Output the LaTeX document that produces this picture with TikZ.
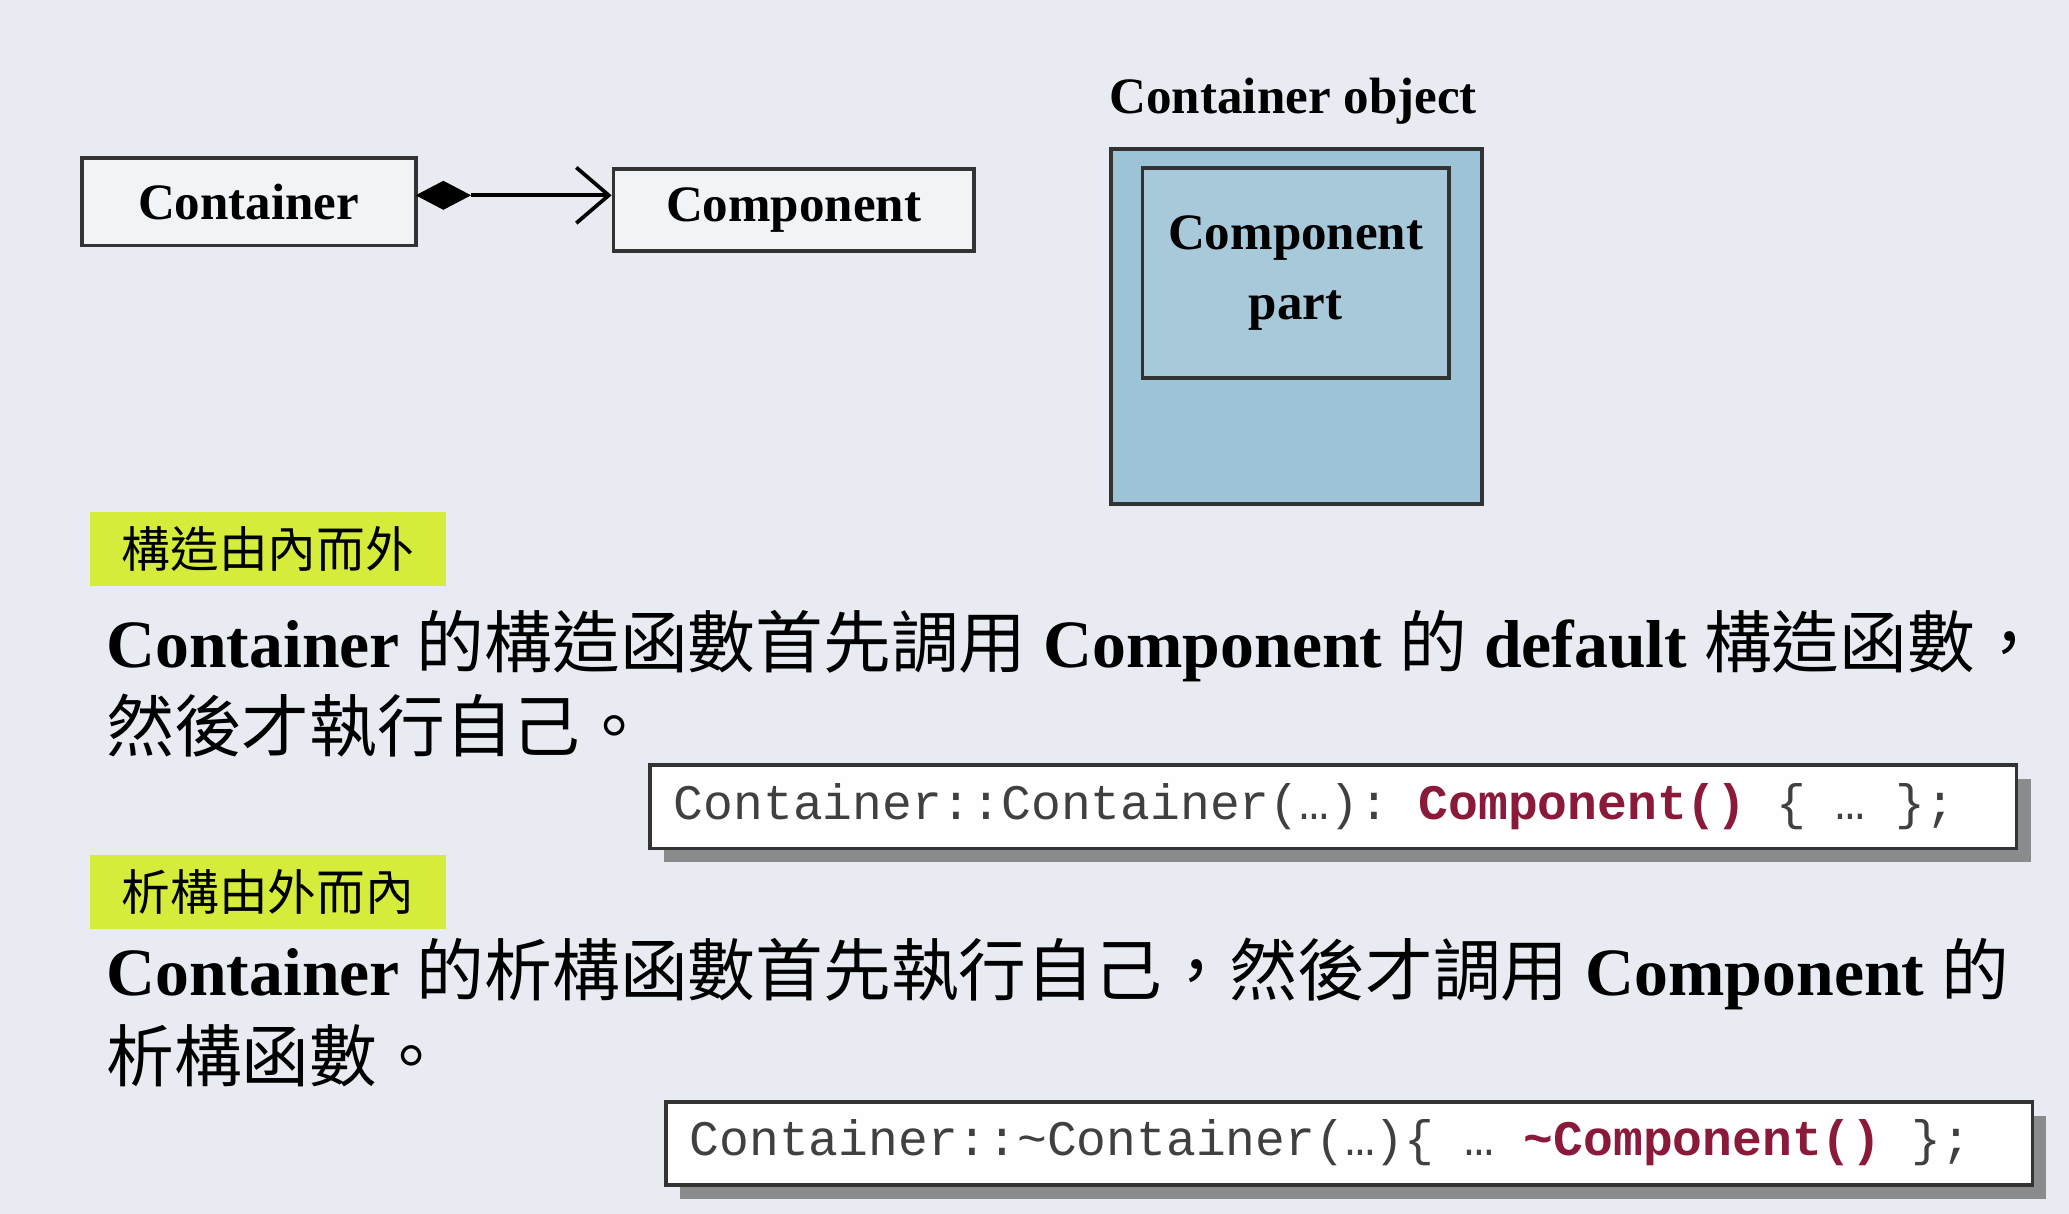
\documentclass[tikz,border=0pt]{standalone}
\usepackage{fontspec}
\setmainfont{Liberation Serif}
\setmonofont{Liberation Mono}
\newfontfamily\cjk{Noto Sans CJK TC}
\usetikzlibrary{arrows.meta,shadows}
\definecolor{bg}{HTML}{E8ECF2}
\definecolor{boxblue}{HTML}{9DC3D6}
\definecolor{hl}{HTML}{D6EC3A}
\definecolor{codered}{HTML}{8B1A3A}
\tikzset{
 umlbox/.style={draw=black!80,line width=0.8pt,fill=bg!60!white,inner sep=0pt,font=\bfseries\fontsize{11}{13}\selectfont},
 hlbox/.style={fill=hl,inner sep=0pt,minimum width=2.7cm,minimum height=0.56cm,font=\cjk\fontsize{10.5}{12}\selectfont},
 bodytext/.style={anchor=west,inner sep=0pt,font=\bfseries\fontsize{14.6}{18}\selectfont},
 codebox/.style={draw=black!80,line width=0.8pt,fill=white!95!bg,inner sep=0pt,minimum width=10.35cm,minimum height=0.63cm,drop shadow={shadow xshift=3pt,shadow yshift=-3pt,fill=black!55,opacity=0.8}},
 codetext/.style={anchor=west,inner sep=0pt,font=\ttfamily\fontsize{10.7}{12}\selectfont,text=black!75}
}
\newcommand{\cj}[1]{{\cjk\mdseries #1}}
\begin{document}
\begin{tikzpicture}[x=0.01cm,y=-0.01cm]
\fill[bg] (0,0) rectangle (1568,920);
\useasboundingbox (0,0) rectangle (1568,920);
\node[umlbox,minimum width=2.53cm,minimum height=0.66cm] (cont) at (188.5,153) {Container};
\node[umlbox,minimum width=2.73cm,minimum height=0.62cm] (comp) at (601.5,159) {Component};
\coordinate (d1) at (315,148);
\coordinate (d2) at (336,137);
\coordinate (d3) at (357,148);
\coordinate (d4) at (336,159);
\fill[black] (d1) -- (d2) -- (d3) -- (d4) -- cycle;
\draw[line width=0.8pt,-{Straight Barb[length=7pt,width=12pt]}] (d3) -- (comp.west |- d3);
\node[font=\bfseries\fontsize{11}{13}\selectfont,inner sep=0pt] (colab) at (980,77) {Container object};
\node[draw=black!80,line width=0.8pt,fill=boxblue,minimum width=2.81cm,minimum height=2.69cm,inner sep=0pt] (outer) at (982.5,247.5) {};
\node[draw=black!80,line width=0.8pt,fill=boxblue!90!white,minimum width=2.32cm,minimum height=1.59cm,inner sep=0pt,align=center,font=\bfseries\fontsize{11}{15}\selectfont] (inner) at (982,207) {Component\\part};
\node[hlbox] (h1) at (203,416) {構造由內而外};
\node[bodytext] (t1) at (80,490) {Container \cj{的構造函數首先調用} Component \cj{的} default \cj{構造函數，}};
\node[bodytext] (t2) at (80,550) {\cj{然後才執行自己。}};
\node[codebox] (c1) at (1010.5,611.5) {};
\node[codetext] (ct1) at (510,611) {Container::Container(…): {\bfseries\color{codered}Component()} \{ … \};};
\node[hlbox] (h2) at (203,676) {析構由外而內};
\node[bodytext] (t3) at (80,738) {Container \cj{的析構函數首先執行自己，然後才調用} Component \cj{的}};
\node[bodytext] (t4) at (80,800) {\cj{析構函數。}};
\node[codebox] (c2) at (1022.5,866.5) {};
\node[codetext] (ct2) at (522,866) {Container::\textasciitilde Container(…)\{ … {\bfseries\color{codered}\textasciitilde Component()} \};};
\end{tikzpicture}
\end{document}
